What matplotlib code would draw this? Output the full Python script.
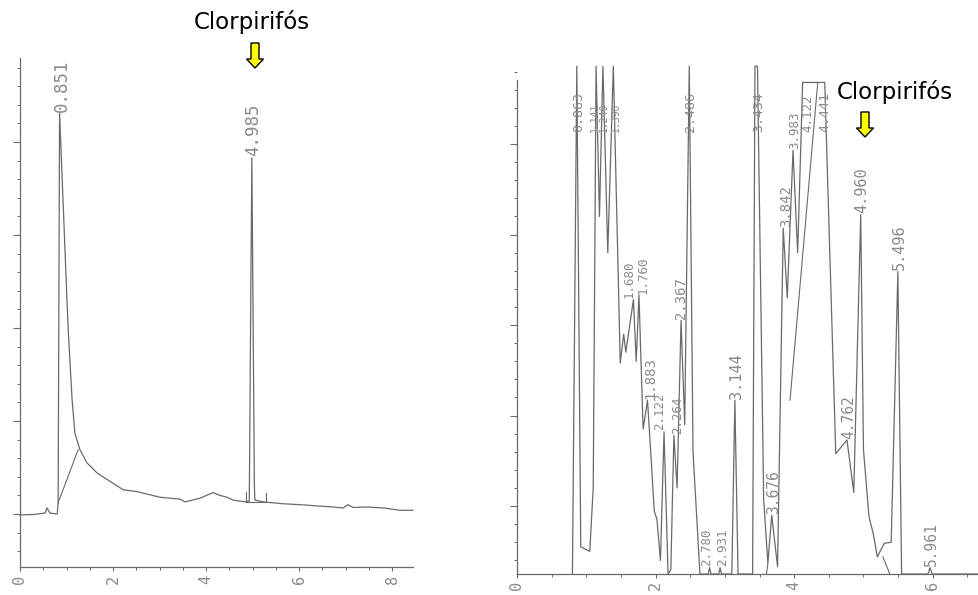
import matplotlib
matplotlib.use("Agg")
import matplotlib.pyplot as plt
from matplotlib.patches import Polygon
from matplotlib.ticker import MultipleLocator

# ---- sample A: retention time (min) vs detector response ----
left_time = [0.00, 0.30, 0.54, 0.58, 0.645, 0.80, 0.82, 0.851, 1.01, 1.04, 1.12, 1.18,
             1.29, 1.44, 1.66, 2.00, 2.22, 2.52, 3.01, 3.44, 3.55, 3.87, 4.15, 4.30,
             4.45, 4.58, 4.84, 4.93, 4.985, 5.04, 5.05, 5.23, 5.66, 6.02, 6.73, 6.95,
             7.05, 7.16, 7.46, 7.81, 8.17, 8.45]
left_resp = [-0.01, -0.005, 0.01, 0.065, 0.01, 0.0, 0.12, 4.31, 2.30, 1.95, 1.23, 0.87,
             0.69, 0.55, 0.44, 0.33, 0.26, 0.24, 0.18, 0.16, 0.13, 0.17, 0.23, 0.20,
             0.18, 0.15, 0.13, 0.14, 3.83, 0.30, 0.15, 0.13, 0.11, 0.10, 0.075, 0.065,
             0.10, 0.07, 0.075, 0.065, 0.04, 0.04]
left_peaks = ["0.851", "4.985"]
left_peak_time = [0.851, 4.985]
left_peak_resp = [4.31, 3.83]

# ---- sample B ----
right_time = [0.80, 0.863, 0.92, 1.05, 1.10, 1.141, 1.19, 1.240, 1.31, 1.390, 1.49, 1.54,
              1.57, 1.680, 1.72, 1.760, 1.82, 1.883, 1.94, 1.98, 2.02, 2.07, 2.122, 2.18,
              2.22, 2.264, 2.31, 2.367, 2.42, 2.486, 2.54, 2.64, 2.76, 2.780, 2.80, 2.91,
              2.931, 2.95, 3.10, 3.144, 3.19, 3.40, 3.434, 3.47, 3.56, 3.62, 3.676, 3.76,
              3.842, 3.90, 3.983, 4.05, 4.122, 4.441, 4.60, 4.762, 4.86, 4.960, 5.00,
              5.08, 5.14, 5.20, 5.30, 5.40, 5.496, 5.55, 5.93, 5.961, 5.99, 6.67]
right_resp = [-0.75, 4.86, -0.45, -0.50, 0.20, 4.86, 3.20, 4.86, 2.80, 4.86, 1.58, 1.90,
              1.70, 2.28, 1.60, 2.33, 0.85, 1.17, 0.47, -0.05, -0.15, -0.60, 0.82, -0.75,
              -0.70, 0.78, 0.20, 2.05, 0.90, 4.86, 0.60, -0.75, -0.75, -0.68, -0.75, -0.75,
              -0.68, -0.75, -0.75, 1.17, -0.75, -0.75, 4.86, 4.86, 0.07, -0.63, -0.10, -0.67,
              3.07, 2.30, 3.93, 2.80, 4.68, 4.68, 0.58, 0.73, 0.15, 3.22, 0.62,
              -0.12, -0.30, -0.56, -0.41, -0.40, 2.59, -0.75, -0.75, -0.68, -0.75, -0.75]
right_peaks = ["0.863", "1.141", "1.240", "1.390", "1.680", "1.760", "1.883", "2.122",
               "2.264", "2.367", "2.486", "2.780", "2.931", "3.144", "3.434", "3.676",
               "3.842", "3.983", "4.122", "4.441", "4.762", "4.960", "5.496", "5.961"]
right_peak_time = [0.863, 1.141, 1.240, 1.390, 1.680, 1.760, 1.883, 2.122, 2.264, 2.367,
                   2.486, 2.780, 2.931, 3.144, 3.434, 3.676, 3.842, 3.983, 4.122, 4.441,
                   4.762, 4.960, 5.496, 5.961]
right_label_base = [4.12, 4.12, 4.12, 4.12, 2.28, 2.33, 1.17, 0.82, 0.78, 2.05,
                    4.12, -0.68, -0.68, 1.17, 4.12, -0.10, 3.07, 3.93, 4.12, 4.12,
                    0.73, 3.22, 2.59, -0.68]
# horizontal nudges (points) so neighbouring annotations stay readable
right_label_dx = [1, -1, 1, 2, -3, 3, 2, -3, 3, 0, 1, -2, 2, 1, 3, 1, 2, 1, 4, 0,
                  1, 1, 1, 1]
right_label_size = [9.5, 7, 7, 7, 9, 9, 10, 9, 9, 10, 9.5, 9, 9, 11, 9.5, 10.5,
                    10, 9, 9, 9.5, 10.5, 11, 11, 10.5]

target_name = "Clorpirifós"
x_ticks = [0, 2, 4, 6, 8]

LINE = "#6a6a6a"
INK = "#8a8a8a"

fig = plt.figure(figsize=(9.79, 5.95), dpi=100)
W, H = 979.0, 595.0


def px_axes(x0, y0, x1, y1):
    return fig.add_axes([x0 / W, 1 - y1 / H, (x1 - x0) / W, (y1 - y0) / H])


def style_axes(ax, xmax, pad):
    for s in ("top", "right"):
        ax.spines[s].set_visible(False)
    for s in ("left", "bottom"):
        ax.spines[s].set_color(LINE)
        ax.spines[s].set_linewidth(0.9)
    ax.set_xticks(x_ticks)
    ax.set_xticklabels([str(t) for t in x_ticks], rotation=90, color=INK,
                       fontsize=11, family="DejaVu Sans Mono")
    ax.xaxis.set_minor_locator(MultipleLocator(0.5))
    ax.yaxis.set_major_locator(MultipleLocator(1))
    ax.yaxis.set_minor_locator(MultipleLocator(0.2))
    ax.set_yticklabels([])
    ax.tick_params(axis="x", which="major", length=3, width=0.8, color=LINE, pad=pad)
    ax.tick_params(axis="x", which="minor", length=2, width=0.7, color=LINE)
    ax.tick_params(axis="y", which="major", length=5, width=0.8, color=LINE)
    ax.tick_params(axis="y", which="minor", length=2.3, width=0.7, color=LINE)
    ax.set_xlim(0, xmax)
    ax.patch.set_alpha(0)


def label_peaks(ax, names, xs, ys, dxs, sizes):
    for n, x, y, dx, fs in zip(names, xs, ys, dxs, sizes):
        ax.annotate(n, (x, y), xytext=(dx, 1), textcoords="offset points",
                    rotation=90, ha="center", va="bottom", color=INK, fontsize=fs,
                    family="DejaVu Sans Mono", annotation_clip=False)


# left chromatogram
axL = px_axes(20, 58, 413, 567)
style_axes(axL, 8.45, 2.5)
axL.set_ylim(-0.57, 4.903)
axL.plot(left_time, left_resp, color=LINE, lw=0.9, clip_on=False)
axL.plot([0.82, 1.25], [0.12, 0.69], color=LINE, lw=0.8)
axL.plot([4.86, 4.86, 5.3, 5.3], [0.24, 0.13, 0.13, 0.23], color=LINE, lw=0.8)
label_peaks(axL, left_peaks, left_peak_time, left_peak_resp, [2, 1], [12.5, 12.5])

# right chromatogram
axR = px_axes(517, 62, 979, 574)
style_axes(axR, 6.667, 1.8)
axR.set_ylim(-0.75, 4.906)
axR.spines["left"].set_bounds(-0.75, 4.71)
axR.plot(right_time, right_resp, color=LINE, lw=0.9, clip_on=False)
axR.plot([4.34, 3.94], [4.68, 1.17], color=LINE, lw=0.8)
axR.plot([3.60, 3.62], [-0.75, -0.63], color=LINE, lw=0.8)
axR.plot([5.28, 5.38], [-0.56, -0.75], color=LINE, lw=0.8)
label_peaks(axR, right_peaks, right_peak_time, right_label_base,
            right_label_dx, right_label_size)

# target compound captions and pointers
fig.text(252 / W, 1 - 22 / H, target_name, ha="center", va="center", fontsize=16.5,
         color="black")
fig.text(895 / W, 1 - 92 / H, target_name, ha="center", va="center", fontsize=16.5,
         color="black")


def down_arrow(cx, y_top, y_neck, y_tip, shaft_w, head_w):
    pts = [(cx - shaft_w / 2, y_top), (cx + shaft_w / 2, y_top), (cx + shaft_w / 2, y_neck),
           (cx + head_w / 2, y_neck), (cx, y_tip), (cx - head_w / 2, y_neck),
           (cx - shaft_w / 2, y_neck)]
    fig.add_artist(Polygon([(x / W, 1 - y / H) for x, y in pts], closed=True,
                           transform=fig.transFigure, facecolor="#ffff00",
                           edgecolor="black", lw=1.0))


down_arrow(255, 43, 59, 68, 8, 17)
down_arrow(865, 112, 128, 137, 8, 17)

fig.savefig("out.png", dpi=100, facecolor="white")
